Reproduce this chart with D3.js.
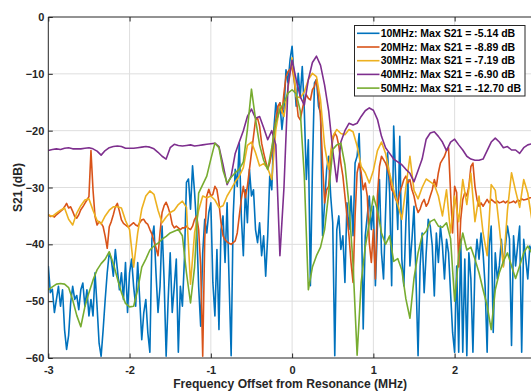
<!DOCTYPE html>
<html><head><meta charset="utf-8">
<script src="https://cdn.jsdelivr.net/npm/d3@7"></script>
<style>html,body{margin:0;padding:0;background:#fff;overflow:hidden}
svg{display:block;font-family:"Liberation Sans",Arial,Helvetica,sans-serif;}</style>
</head><body><svg id="c" width="531" height="391"></svg>
<script>
// ---- data ----
const freqStart = -3;
const fineStep = 0.025;   // MHz spacing of 10 MHz and 20 MHz traces
const coarseStep = 0.05;  // MHz spacing of 30/40/50 MHz traces

const s21_10MHz = [
-43.8,-48.5,-47.9,-52,-49.7,-47.4,-50.9,-48,-55,-58.5,-56,-50.3,-47.4,-49.7,-49,-51.5,-48,-46.8,-50.9,-48,-52.6,-49.7,-52.6,-45,-50.9,-57.4,-59.7,-55,-49.7,-45,-41.5,-42.6,-45.6,-40.9,-44.4,-48,-45,-49.7,-43.2,-52,
-45,-42.6,-47.4,-50.9,-43.2,-49.7,-56.8,-52,-49.7,-55.6,-59,-39,-36.8,-45,-52,-47.4,-36.8,-46.2,-59.7,-49.7,-41.5,-52,-47.4,-42.6,-59,-47.4,-50.9,-42.6,-29.1,-28.5,-33.8,-26.2,-30.9,-36.8,-47.4,-54.4,-41.5,-35.6,-38,-34.4,
-32.7,-46.7,-52.6,-40.9,-55,-37.4,-35,-43.2,-32.7,-46.7,-59.6,-35,-26.8,-29.8,-22.2,-35,-42,-30.4,-36.2,-26.8,-31.5,-30.4,-37.4,-39.7,-36.2,-42,-38.5,-45.6,-38.5,-28,-30.4,-19.8,-15.1,-17.5,-15.1,-19.8,-16.3,-9.3,-11.6,-7.5,
-5.14,-10.5,-15.7,-9.9,-14,-8.7,-16.3,-28.6,-21.6,-47.3,-26.8,-11.6,-11,-15.7,-16.9,-38.5,-32.7,-26.8,-24.5,-31.5,-36.2,-59.6,-37.4,-35,-40.9,-38.5,-46.7,-32.7,-37.4,-31.5,-38.5,-25.7,-24.5,-20.5,-31.5,-54.9,-38.5,-35,-31.5,-37.4,
-33.3,-47.3,-36.8,-28.6,-41.5,-46.1,-34.4,-23.9,-30.9,-47.3,-19.2,-28.6,-37.4,-21,-42.6,-47.3,-36.2,-28.6,-43.8,-39.1,-33.3,-46.1,-59.6,-43.8,-38,-48.5,-41.5,-35.6,-36.8,-40.3,-49.1,-38,-43.2,-36.8,-40.3,-46.1,-39.1,-41.5,-48.5,-55.5,
-59,-43.8,-59,-39.1,-59,-42.6,-59.6,-41.5,-46.1,-59,-43.8,-39.1,-42.6,-38,-41.5,-47.3,-59,-40.3,-36.8,-55.5,-41.5,-46.1,-43.8,-39.1,-43.8,-40.3,-36.8,-39.1,-57.8,-38.5,-43.8,-40.3,-36.8,-59,-39.1,-42.6,-46.1,-40.3,-41.5
];
const s21_20MHz = [
-34.8,-35.1,-35,-35.2,-34.8,-34.5,-34.2,-33.9,-33.4,-32.8,-33.6,-33.4,-34.2,-35.1,-35.4,-34.8,-33.9,-33.4,-32.8,-32.2,-31.6,-23.5,-30.4,-35.1,-36.6,-36,-36.3,-36.9,-38.6,-40.7,-36.9,-36,-34.8,-33.4,-32.8,-34.2,-35.7,-36.3,-36.6,-36.9,
-36.8,-36.5,-36.2,-36.6,-36.8,-36.2,-35.7,-35.6,-36.2,-36.5,-37.4,-38.2,-39.4,-40.6,-42,-37.9,-34.4,-33.2,-32.6,-33.5,-34.7,-36.5,-37.1,-36.8,-37.1,-37.4,-37.1,-37.1,-36.8,-37.2,-37.4,-36.8,-35.6,-35,-37.4,-43.8,-59.7,-39.1,-31.5,-30.3,
-31.5,-31.2,-29.8,-30.4,-32.7,-36.2,-38.5,-39.2,-39.6,-39.8,-40,-39.7,-39.4,-38,-35,-32.1,-29.8,-31.8,-29.8,-26.8,-23.9,-21,-18.1,-17.8,-19.2,-22.2,-23.9,-25.4,-26.8,-25.7,-23.9,-20.4,-18.1,-15.7,-15.1,-16.9,-13.4,-10.5,-9.6,-9.2,
-8.89,-11,-14,-17.5,-18.1,-16.3,-14.6,-13.7,-14.3,-14.6,-12.8,-12.2,-11,-14,-17.5,-25.7,-32.7,-30.4,-29.8,-24.5,-21.6,-20.4,-21,-22.7,-25.7,-28,-31.5,-35,-38.5,-43.2,-46.7,-35,-27.4,-25.7,-27.4,-30.4,-29.2,-31.5,-39.7,-43.2,
-37.4,-46.1,-31.5,-26.3,-24.5,-25.1,-25.7,-26.8,-28,-30.4,-30.9,-32.1,-32.7,-30.9,-29.8,-28.6,-28,-29.2,-28.6,-30.4,-31.5,-33.3,-34.4,-33.8,-32.7,-32.1,-33.3,-32.7,-31.5,-30.4,-28.6,-29.8,-27.4,-25.7,-25.1,-24.5,-23.5,-23,-30.9,-38,
-29.8,-30.9,-44,-35.6,-32.1,-30.9,-31.5,-29.8,-26.3,-25.7,-29.8,-32.1,-33.3,-32.7,-33.3,-32.7,-32.1,-32.7,-32.1,-32.4,-32.7,-32.4,-32.7,-32.6,-32.4,-32.7,-32.4,-32.7,-32.6,-32.4,-32.7,-32.2,-32.4,-32,-32.2,-32.1,-32,-31.8,-31.8
];
const s21_30MHz = [
-34.8,-35.1,-34.5,-34,-33.6,-35.6,-36.6,-34.5,-33.2,-32.2,
-32,-34,-35.8,-36.4,-35,-34,-33.4,-33.4,-33.6,-35.8,
-37.4,-44,-38,-33.8,-31.5,-30.6,-31.2,-34,-36.2,-35.2,
-34.4,-34,-33,-32.4,-33.5,-47,-38,-34,-31.5,-31.8,
-31.5,-32.2,-33.5,-33.2,-31.5,-30.3,-29,-28,-26.5,-22.6,
-22,-23.9,-26.2,-25.8,-26.6,-28.6,-19.8,-15.7,-17.5,-12.5,
-7.19,-14,-14.2,-13.2,-11,-9.9,-10.5,-14.6,-22.7,-26.8,
-21,-19.8,-20.5,-20.7,-19.8,-20.2,-22.7,-26.3,-27.4,-29.2,
-27,-23.5,-22,-24,-27.5,-30.5,-33,-35.6,-30,-24.5,
-30.5,-32,-30,-28.5,-29,-29.5,-31.5,-35,-30.4,-38,
-31.5,-36,-28.6,-33,-27.5,-36,-31.5,-38,-42,-29.5,
-30.5,-37,-44,-34,-27.4,-30.6,-33.5,-28.6,-31,-35.6
];
const s21_40MHz = [
-23.5,-23.3,-23.2,-23.3,-23.1,-23,-23.2,-23.2,-23.2,-23.1,
-23,-23.2,-23.6,-24.3,-23.5,-23,-22.8,-22.7,-22.8,-23.1,
-23.1,-23.1,-23,-22.9,-22.8,-22.9,-23.2,-23.8,-24.5,-25,
-23,-22.4,-22.6,-22.7,-22.6,-22.5,-22.7,-22.6,-22.5,-22.4,
-22.3,-22.2,-22.8,-26,-29.5,-28,-24,-22,-20,-17.5,
-16.2,-17.8,-17.5,-19.5,-21.6,-20,-22.5,-42,-30,-12,
-7.6,-11,-14,-15.5,-11,-8,-6.9,-8.5,-12,-16.5,
-23.4,-29,-22,-20,-18.7,-19,-18.7,-17.5,-16.5,-16,
-16.4,-18,-21,-23,-24,-25,-25.5,-26,-26.8,-27.5,
-29,-27,-25,-21.5,-20.4,-20.2,-21,-22,-23.5,-22,
-21.5,-22.5,-23.4,-24.5,-25,-25.2,-25.2,-25,-23.5,-22,
-21.3,-22,-23,-22.8,-23.4,-23.4,-24,-23,-22.5,-22.3
];
const s21_50MHz = [
-48,-47.5,-47,-46.9,-47,-47.6,-49.8,-52.5,-54.5,-51,
-48.5,-46.3,-44.5,-43.4,-42.6,-41.3,-43.4,-46,-48.5,-50.4,
-51,-50.9,-48,-44,-42.6,-41,-40.3,-39.8,-39.1,-38.6,
-38,-37.7,-37.4,-38.5,-45,-50.3,-44,-31,-29.5,-28,
-25,-22.2,-23,-27,-29.2,-28.2,-27.4,-26.8,-25.5,-19.8,
-12.7,-18,-22.5,-25.2,-26.8,-23,-18.5,-16.3,-15.1,-13.4,
-12.8,-13.5,-16.5,-28,-48,-44,-42,-40.5,-37.4,-31,
-23.3,-22.5,-22.2,-26,-33,-43.5,-59.5,-46.7,-40.5,-36.2,
-31.5,-34,-38,-40,-38.5,-43,-42.5,-44.5,-49.6,-53,
-46,-41.5,-38.5,-37.7,-36,-35.6,-36.8,-37,-36.2,-39,
-50,-42,-38,-41,-40.5,-42.6,-45,-48,-50.8,-55,
-48,-45,-43,-41.5,-43.8,-46,-43.8,-41.5,-40.3,-41.5
];
const legendLabels = [
 "10MHz: Max S21 = -5.14 dB",
 "20MHz: Max S21 = -8.89 dB",
 "30MHz: Max S21 = -7.19 dB",
 "40MHz: Max S21 = -6.90 dB",
 "50MHz: Max S21 = -12.70 dB"
];
const xTicks = [-3,-2,-1,0,1,2,3];
const xTickLabels = ["-3","-2","-1","0","1","2",""]; // "3" falls outside the window
const yTicks = [-60,-50,-40,-30,-20,-10,0];
const xTitle = "Frequency Offset from Resonance (MHz)";
const yTitle = "S21 (dB)";

// ---- chart ----
const colors = ["#0072BD","#D95319","#EDB120","#7E2F8E","#77AC30"];
const series = [
  {vals:s21_10MHz, step:fineStep},
  {vals:s21_20MHz, step:fineStep},
  {vals:s21_30MHz, step:coarseStep},
  {vals:s21_40MHz, step:coarseStep},
  {vals:s21_50MHz, step:coarseStep}
];
const L=48.3, R=535.9, T=17, B=358;
const svg = d3.select("#c");
const x = d3.scaleLinear().domain([-3,3]).range([L,R]);
const y = d3.scaleLinear().domain([-60,0]).range([B,T]);
const axisCol = "#262626";

svg.append("defs").append("clipPath").attr("id","clip")
  .append("rect").attr("x",L).attr("y",T).attr("width",R-L).attr("height",B-T);

// grid
const grid = svg.append("g").attr("stroke","#dedede").attr("stroke-width",1);
grid.selectAll("line.gx").data(xTicks.slice(1,-1)).join("line")
  .attr("x1",d=>x(d)).attr("x2",d=>x(d)).attr("y1",T).attr("y2",B);
grid.selectAll("line.gy").data(yTicks.slice(1,-1)).join("line")
  .attr("y1",d=>y(d)).attr("y2",d=>y(d)).attr("x1",L).attr("x2",R);

// data
const line = d3.line();
const dataG = svg.append("g").attr("clip-path","url(#clip)");
series.forEach((s,i)=>{
  const pts = s.vals.map((v,k)=>[x(freqStart + k*s.step), y(v)]);
  dataG.append("path").attr("d", line(pts)).attr("fill","none")
    .attr("stroke",colors[i]).attr("stroke-width",1.6).attr("stroke-linejoin","round");
});

// axes
function styleAxis(g){
  g.select(".domain").remove();
  g.selectAll(".tick line").attr("stroke",axisCol);
  g.selectAll(".tick text").attr("fill",axisCol).attr("font-weight","bold").attr("font-size","11px");
}
svg.append("g").attr("transform",`translate(0,${B})`)
  .call(d3.axisBottom(x).tickValues(xTicks).tickFormat((d,i)=>xTickLabels[i]).tickSizeInner(-4.5).tickSizeOuter(0).tickPadding(8))
  .call(styleAxis);
svg.append("g").attr("transform",`translate(0,${T})`)
  .call(d3.axisTop(x).tickValues(xTicks).tickFormat("").tickSizeInner(-4.5).tickSizeOuter(0))
  .call(styleAxis);
svg.append("g").attr("transform",`translate(${L},0)`)
  .call(d3.axisLeft(y).tickValues(yTicks).tickFormat(d3.format("d")).tickSizeInner(-4.5).tickSizeOuter(0).tickPadding(4))
  .call(styleAxis);
svg.selectAll("g").attr("font-family",null);

// box
svg.append("path").attr("d",`M${R},${T}H${L}V${B}H${R}`).attr("fill","none")
  .attr("stroke",axisCol).attr("stroke-width",1);

// titles
svg.append("text").attr("x",(L+R)/2-2).attr("y",388).attr("text-anchor","middle")
  .attr("font-weight","bold").attr("font-size","12.1px").attr("fill",axisCol).text(xTitle);
svg.append("text").attr("transform",`translate(22,${(T+B)/2}) rotate(-90)`).attr("text-anchor","middle")
  .attr("font-weight","bold").attr("font-size","12.1px").attr("fill",axisCol).text(yTitle);

// legend
const lg = svg.append("g");
lg.append("rect").attr("x",354.5).attr("y",25.5).attr("width",170.5).attr("height",70.5)
  .attr("fill","#fff").attr("stroke",axisCol).attr("stroke-width",1);
legendLabels.forEach((t,i)=>{
  const cy = 33.3 + i*13.7;
  lg.append("line").attr("x1",357).attr("x2",379.5).attr("y1",cy).attr("y2",cy)
    .attr("stroke",colors[i]).attr("stroke-width",1.6);
  lg.append("text").attr("x",380.7).attr("y",cy).attr("dy","0.35em")
    .attr("font-weight","bold").attr("font-size","10.5px").attr("fill","#000").text(t);
});
</script></body></html>
